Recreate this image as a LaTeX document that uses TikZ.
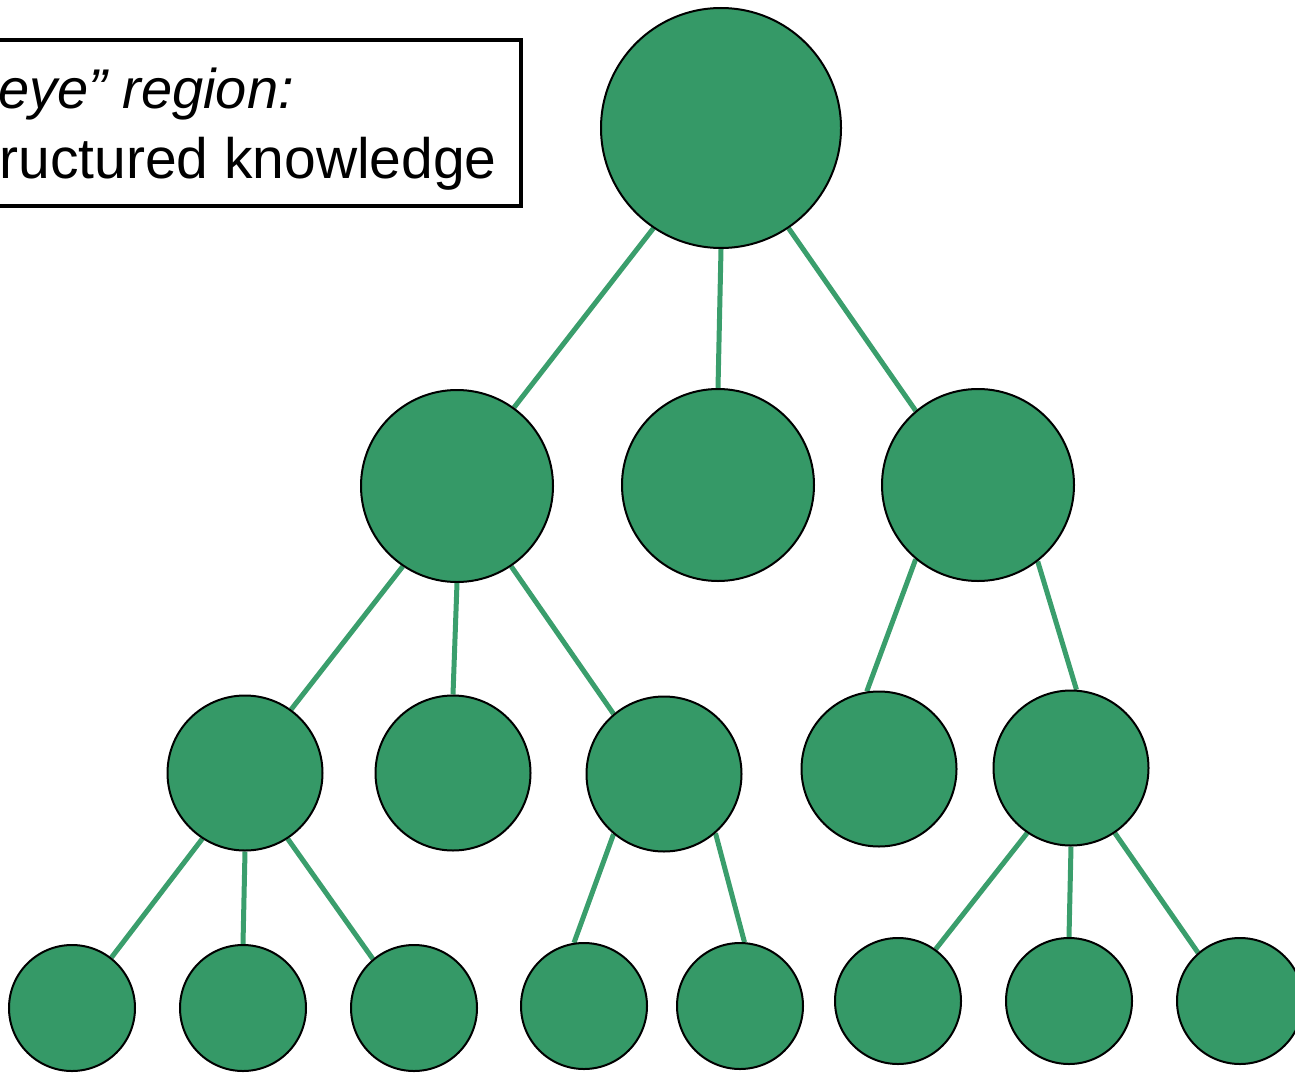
\documentclass[tikz,border=0pt]{standalone}
\usepackage{fontspec}
\setmainfont{Liberation Sans}
\usetikzlibrary{backgrounds}
\definecolor{nodegreen}{RGB}{53,153,103}
\definecolor{edgegreen}{RGB}{58,158,108}
\begin{document}
\begin{tikzpicture}[x=1pt,y=-1pt,
  ball/.style={circle,draw=black,line width=2pt,fill=nodegreen,inner sep=0pt},
  big/.style={ball,minimum size=240pt},
  mid/.style={ball,minimum size=192pt},
  small/.style={ball,minimum size=155pt},
  tiny/.style={ball,minimum size=126pt},
  link/.style={draw=edgegreen,line width=5pt}]
\useasboundingbox (0,0) rectangle (1295,1073);
% label box
\draw[line width=4pt] (-20,40) rectangle (521,206);
\node[anchor=base west,inner sep=0pt,font=\fontsize{56}{68}\selectfont\itshape] (l1) at (-2,108) {eye” region:};
\node[anchor=base east,inner sep=0pt,font=\fontsize{57}{68}\selectfont] (l2) at (497,178) {ructured knowledge};
% nodes
\node[big] (r) at (721,128) {};
\node[mid] (a) at (457,486) {};
\node[mid] (b) at (718,485) {};
\node[mid] (c) at (978,485) {};
\node[small] (a1) at (245,773) {};
\node[small] (a2) at (453,773) {};
\node[small] (a3) at (664,774) {};
\node[small] (c1) at (879,769) {};
\node[small] (c2) at (1071,768) {};
\node[tiny] (a11) at (72,1008) {};
\node[tiny] (a12) at (243,1008) {};
\node[tiny] (a13) at (414,1008) {};
\node[tiny] (a31) at (584,1006) {};
\node[tiny] (a32) at (740,1006) {};
\node[tiny] (c21) at (898,1001) {};
\node[tiny] (c22) at (1069,1001) {};
\node[tiny] (c23) at (1240,1001) {};
\begin{pgfonlayer}{background}
\path[link] (r.236) -- (a.54) (r.270) -- (b.90) (r.304) -- (c.130)
  (a.236) -- (a1.54) (a.270) -- (a2.90) (a.304) -- (a3.130)
  (c.230) -- (c1.99) (c.308) -- (c2.86)
  (a1.237) -- (a11.52) (a1.270) -- (a12.90) (a1.303) -- (a13.130)
  (a3.230) -- (a31.99) (a3.311) -- (a32.86)
  (c2.236) -- (c21.54) (c2.270) -- (c22.90) (c2.304) -- (c23.131);
\end{pgfonlayer}
\end{tikzpicture}
\end{document}
